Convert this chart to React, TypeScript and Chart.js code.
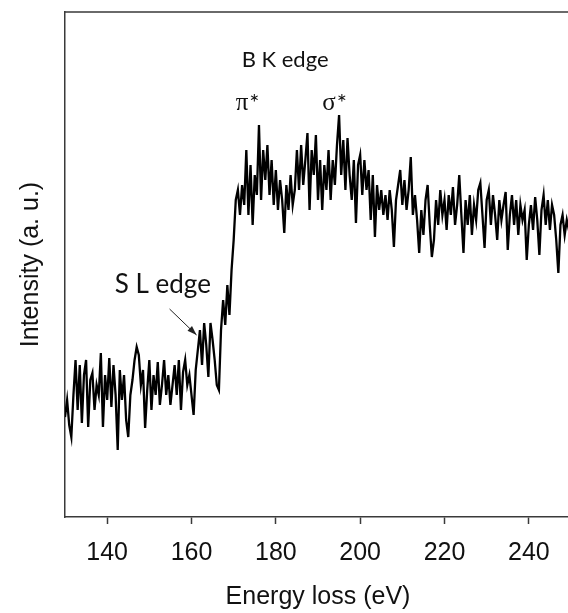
import React, { useEffect, useRef } from "react";
import { Chart, registerables } from "chart.js";

Chart.register(...registerables);

// Energy grid: 130 eV to 250 eV in 0.5 eV steps
const energyStart = 130;
const energyStep = 0.5;

// Intensity (arbitrary units), one value per 0.5 eV
const intensity: number[] = [
  100, 117, 92, 80, 122, 157, 107, 152, 94, 142, // 130-134.5
  157, 90, 137, 144, 107, 132, 122, 164, 90, 142, // 135-139.5
  117, 159, 110, 152, 122, 67, 147, 117, 142, 97, // 140-144.5
  80, 122, 137, 157, 170, 162, 132, 147, 89, 127, // 145-149.5
  157, 107, 142, 122, 155, 112, 132, 157, 122, 142, // 150-154.5
  112, 132, 152, 122, 157, 107, 145, 157, 132, 142, // 155-159.5
  122, 102, 147, 167, 187, 152, 194, 172, 140, 194, // 160-164.5
  177, 157, 132, 127, 187, 217, 192, 232, 202, 247, // 165-169.5
  277, 317, 327, 302, 332, 312, 367, 302, 352, 292, // 170-174.5
  342, 322, 392, 317, 367, 337, 372, 322, 357, 312, // 175-179.5
  347, 307, 337, 317, 284, 332, 307, 342, 312, 327, // 180-184.5
  367, 327, 372, 332, 357, 384, 307, 367, 342, 382, // 185-189.5
  317, 357, 307, 352, 327, 367, 317, 357, 332, 372, // 190-194.5
  402, 342, 377, 327, 379, 342, 317, 357, 294, 352, // 195-199.5
  362, 322, 357, 327, 347, 297, 342, 280, 332, 307, // 200-204.5
  327, 302, 322, 297, 327, 307, 270, 317, 332, 347, // 205-209.5
  312, 337, 307, 327, 360, 302, 322, 297, 264, 307, // 210-214.5
  282, 317, 332, 292, 260, 277, 317, 292, 327, 302, // 215-219.5
  317, 287, 322, 302, 330, 292, 312, 342, 302, 264, // 220-224.5
  317, 292, 322, 282, 312, 297, 327, 334, 302, 269, // 225-229.5
  317, 327, 292, 322, 302, 277, 317, 297, 312, 325, // 230-234.5
  267, 302, 322, 292, 317, 282, 312, 297, 307, 257, // 235-239.5
  292, 312, 287, 320, 297, 262, 307, 322, 292, 317, // 240-244.5
  287, 312, 302, 277, 244, 292, 302, 282, 297, 287, // 245-249.5
  292, // 250
];

const xTickValues: number[] = [140, 160, 180, 200, 220, 240];
const xMin = 130;
const xMax = 250;
const yMin = 0;
const yMax = 505;

// Text annotations, positioned in data units (energy, intensity)
const annotationTexts: string[] = ["B K edge", "π*", "σ*", "S L edge"];
const annotationEnergies: number[] = [182.2, 173.2, 193.8, 153.2];
const annotationIntensities: number[] = [457, 414, 414, 232];
const annotationSizes: number[] = [22, 25, 25, 26];
const annotationSerif: boolean[] = [false, true, true, false];

// Arrow pointing at the S L edge, in data units
const arrowEnergies: number[] = [154.8, 161.2];
const arrowIntensities: number[] = [208, 182];

const frameColor = "#3a3a3a";
const axisFont = "'Liberation Sans', Arial, sans-serif";
const labelFont = "Lato, 'Open Sans', sans-serif";
const greekFont = "'Liberation Serif', 'DejaVu Serif', serif";

export default function App() {
  const canvasRef = useRef<HTMLCanvasElement | null>(null);

  useEffect(() => {
    const canvas = canvasRef.current;
    if (!canvas) return;

    const points = intensity.map((v, i) => ({ x: energyStart + i * energyStep, y: v }));

    const framePlugin = {
      id: "frameAndNotes",
      afterDatasetsDraw(chart: any) {
        const { ctx, chartArea, scales } = chart;
        const xs = scales.x;
        const ys = scales.y;
        ctx.save();
        // top and right border of the plot box
        ctx.strokeStyle = frameColor;
        ctx.lineWidth = 1.5;
        ctx.beginPath();
        ctx.moveTo(chartArea.left, chartArea.top);
        ctx.lineTo(chartArea.right, chartArea.top);
        ctx.lineTo(chartArea.right, chartArea.bottom);
        ctx.stroke();

        // annotation texts
        ctx.fillStyle = "#111";
        ctx.textAlign = "center";
        ctx.textBaseline = "middle";
        annotationTexts.forEach((t, i) => {
          const x = xs.getPixelForValue(annotationEnergies[i]);
          const y = ys.getPixelForValue(annotationIntensities[i]);
          const size = annotationSizes[i];
          if (annotationSerif[i]) {
            // Greek letter in serif, asterisk in the label font
            const greek = t.slice(0, 1);
            const rest = t.slice(1);
            const restSize = size - 1;
            ctx.font = `${size}px ${greekFont}`;
            const gw = ctx.measureText(greek).width;
            ctx.font = `${restSize}px ${labelFont}`;
            const rw = ctx.measureText(rest).width;
            const startX = x - (gw + rw) / 2;
            ctx.textAlign = "left";
            ctx.font = `${size}px ${greekFont}`;
            ctx.fillText(greek, startX, y);
            ctx.font = `${restSize}px ${labelFont}`;
            ctx.fillText(rest, startX + gw + 1, y);
            ctx.textAlign = "center";
          } else {
            ctx.font = `${size}px ${labelFont}`;
            ctx.fillText(t, x, y);
          }
        });

        // arrow
        const x0 = xs.getPixelForValue(arrowEnergies[0]);
        const y0 = ys.getPixelForValue(arrowIntensities[0]);
        const x1 = xs.getPixelForValue(arrowEnergies[1]);
        const y1 = ys.getPixelForValue(arrowIntensities[1]);
        ctx.strokeStyle = "#222";
        ctx.lineWidth = 1;
        ctx.beginPath();
        ctx.moveTo(x0, y0);
        ctx.lineTo(x1, y1);
        ctx.stroke();
        const ang = Math.atan2(y1 - y0, x1 - x0);
        const head = 10;
        ctx.fillStyle = "#222";
        ctx.beginPath();
        ctx.moveTo(x1, y1);
        ctx.lineTo(x1 - head * Math.cos(ang - 0.33), y1 - head * Math.sin(ang - 0.33));
        ctx.lineTo(x1 - head * Math.cos(ang + 0.33), y1 - head * Math.sin(ang + 0.33));
        ctx.closePath();
        ctx.fill();
        ctx.restore();
      },
    };

    const chart = new Chart(canvas, {
      type: "line",
      data: {
        datasets: [
          {
            data: points,
            borderColor: "#000",
            borderWidth: 2.3,
            pointRadius: 0,
            tension: 0,
            fill: false,
            borderJoinStyle: "miter",
          },
        ],
      },
      options: {
        animation: false,
        responsive: false,
        maintainAspectRatio: false,
        parsing: false,
        normalized: true,
        layout: { padding: { top: 12, right: 0, left: 0, bottom: 0 } },
        plugins: {
          legend: { display: false },
          tooltip: { enabled: false },
        },
        scales: {
          x: {
            type: "linear",
            min: xMin,
            max: xMax,
            afterBuildTicks: (scale: any) => {
              scale.ticks = xTickValues.map((v) => ({ value: v }));
            },
            afterFit: (scale: any) => {
              scale.height = 96;
            },
            border: { display: true, color: frameColor, width: 1.5 },
            grid: {
              display: true,
              drawOnChartArea: false,
              drawTicks: true,
              tickLength: 7,
              tickColor: frameColor,
              tickWidth: 1.5,
            },
            ticks: {
              color: "#111",
              font: { family: axisFont, size: 25 },
              padding: 14,
              maxRotation: 0,
              autoSkip: false,
            },
            title: {
              display: true,
              text: "Energy loss (eV)",
              color: "#111",
              font: { family: axisFont, size: 25 },
              padding: { top: 0, bottom: 1 },
            },
          },
          y: {
            type: "linear",
            min: yMin,
            max: yMax,
            afterFit: (scale: any) => {
              scale.width = 65;
            },
            border: { display: true, color: frameColor, width: 1.5 },
            grid: { display: false, drawTicks: false },
            ticks: { display: false },
            title: {
              display: true,
              text: "Intensity (a. u.)",
              color: "#111",
              font: { family: axisFont, size: 25 },
              padding: { top: 16, bottom: 0 },
            },
          },
        },
      },
      plugins: [framePlugin],
    });

    return () => {
      chart.destroy();
    };
  }, []);

  return (
    <div
      style={{
        position: "fixed",
        left: 0,
        top: 0,
        width: 568,
        height: 613,
        overflow: "hidden",
        background: "#fff",
      }}
    >
      <canvas ref={canvasRef} width={571} height={613} style={{ display: "block" }} />
    </div>
  );
}
